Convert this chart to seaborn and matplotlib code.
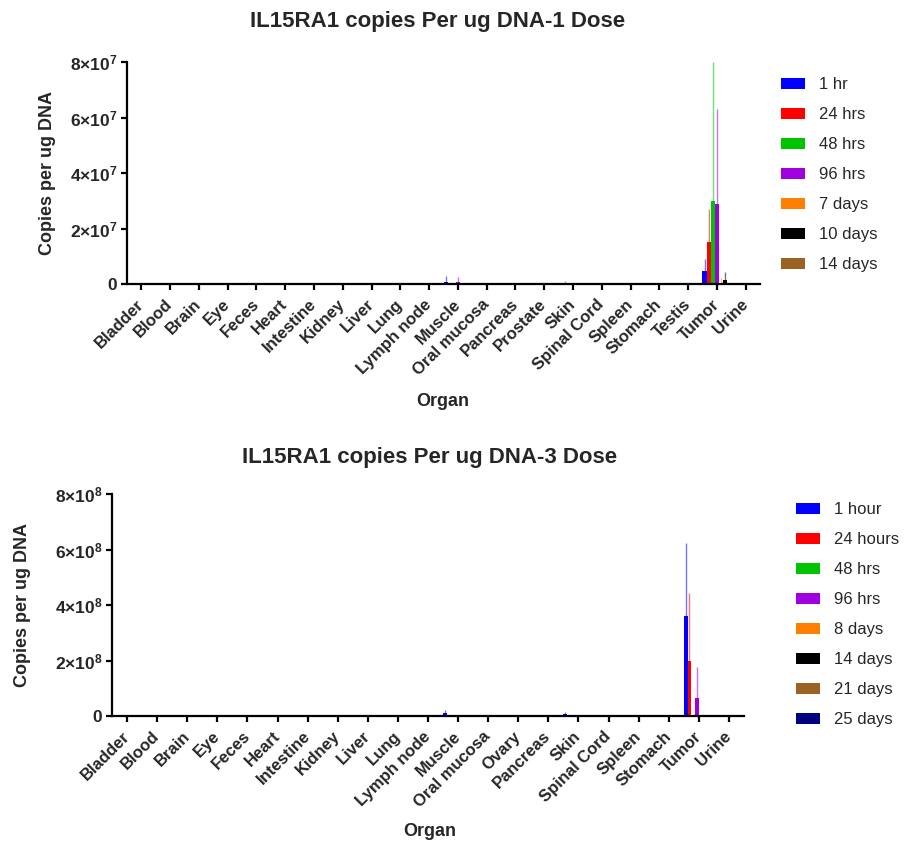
import numpy as np
import pandas as pd
import matplotlib
matplotlib.use("Agg")
import matplotlib.pyplot as plt
import seaborn as sns

# ---------------- data: 1 dose (values in units of 1e7) ----------------
organs_1 = ["Bladder", "Blood", "Brain", "Eye", "Feces", "Heart", "Intestine",
            "Kidney", "Liver", "Lung", "Lymph node", "Muscle", "Oral mucosa",
            "Pancreas", "Prostate", "Skin", "Spinal Cord", "Spleen", "Stomach",
            "Testis", "Tumor", "Urine"]
times_1 = ["1 hr", "24 hrs", "48 hrs", "96 hrs", "7 days", "10 days", "14 days"]
colors_1 = ["#0000FF", "#FF0000", "#00C400", "#A000E0", "#FF8000", "#000000", "#9A6324"]
scale_1 = 1e7
#                Bl Bo Br Ey Fe He In Ki Li Lu LN    Mu    OM Pa Pr Sk    SC Sp St Te Tu    Ur
mean_1hr_1  = [0, 0, 0, 0, 0, 0, 0, 0, 0, 0, 0,    0.07, 0, 0, 0, 0,    0, 0, 0, 0, 0.47, 0]
mean_24h_1  = [0, 0, 0, 0, 0, 0, 0, 0, 0, 0, 0,    0.03, 0, 0, 0, 0.03, 0, 0, 0, 0, 1.50, 0]
mean_48h_1  = [0, 0, 0, 0, 0, 0, 0, 0, 0, 0, 0,    0.03, 0, 0, 0, 0,    0, 0, 0, 0, 3.00, 0]
mean_96h_1  = [0, 0, 0, 0, 0, 0, 0, 0, 0, 0, 0,    0.06, 0, 0, 0, 0.02, 0, 0, 0, 0, 2.88, 0]
mean_7d_1   = [0, 0, 0, 0, 0, 0, 0, 0, 0, 0, 0,    0,    0, 0, 0, 0,    0, 0, 0, 0, 0.05, 0]
mean_10d_1  = [0, 0, 0, 0, 0, 0, 0, 0, 0, 0, 0,    0,    0, 0, 0, 0,    0, 0, 0, 0, 0.14, 0]
mean_14d_1  = [0, 0, 0, 0, 0, 0, 0, 0, 0, 0, 0,    0.03, 0, 0, 0, 0,    0, 0, 0, 0, 0,    0]
sd_1hr_1    = [0, 0, 0, 0, 0, 0, 0, 0, 0, 0, 0,    0.21, 0, 0, 0, 0,    0, 0, 0, 0, 0.43, 0]
sd_24h_1    = [0, 0, 0, 0, 0, 0, 0, 0, 0, 0, 0,    0.02, 0, 0, 0, 0.08, 0, 0, 0, 0, 1.20, 0]
sd_48h_1    = [0, 0, 0, 0, 0, 0, 0, 0, 0, 0, 0,    0.02, 0, 0, 0, 0,    0, 0, 0, 0, 5.00, 0]
sd_96h_1    = [0, 0, 0, 0, 0, 0, 0, 0, 0, 0, 0,    0.20, 0, 0, 0, 0.02, 0, 0, 0, 0, 3.42, 0]
sd_7d_1     = [0, 0, 0, 0, 0, 0, 0, 0, 0, 0, 0,    0,    0, 0, 0, 0,    0, 0, 0, 0, 0.15, 0]
sd_10d_1    = [0, 0, 0, 0, 0, 0, 0, 0, 0, 0, 0,    0,    0, 0, 0, 0,    0, 0, 0, 0, 0.30, 0]
sd_14d_1    = [0, 0, 0, 0, 0, 0, 0, 0, 0, 0, 0,    0.02, 0, 0, 0, 0,    0, 0, 0, 0, 0,    0]
yticks_1 = [0, 2, 4, 6, 8]

# ---------------- data: 3 dose (values in units of 1e8) ----------------
organs_3 = ["Bladder", "Blood", "Brain", "Eye", "Feces", "Heart", "Intestine",
            "Kidney", "Liver", "Lung", "Lymph node", "Muscle", "Oral mucosa",
            "Ovary", "Pancreas", "Skin", "Spinal Cord", "Spleen", "Stomach",
            "Tumor", "Urine"]
times_3 = ["1 hour", "24 hours", "48 hrs", "96 hrs", "8 days", "14 days", "21 days", "25 days"]
colors_3 = ["#0000FF", "#FF0000", "#00C400", "#A000E0", "#FF8000", "#000000", "#9A6324", "#000080"]
scale_3 = 1e8
#                Bl Bo Br Ey Fe He In Ki Li Lu LN     Mu    OM Ov Pa Sk    SC Sp St Tu    Ur
mean_1h_3   = [0, 0, 0, 0, 0, 0, 0, 0, 0, 0, 0.005, 0.10, 0, 0, 0, 0.06, 0, 0, 0, 3.60, 0]
mean_24h_3  = [0, 0, 0, 0, 0, 0, 0, 0, 0, 0, 0,     0,    0, 0, 0, 0,    0, 0, 0, 2.00, 0]
mean_48h_3  = [0, 0, 0, 0, 0, 0, 0, 0, 0, 0, 0,     0,    0, 0, 0, 0,    0, 0, 0, 0.03, 0]
mean_96h_3  = [0, 0, 0, 0, 0, 0, 0, 0, 0, 0, 0,     0,    0, 0, 0, 0,    0, 0, 0, 0.65, 0]
mean_8d_3   = [0, 0, 0, 0, 0, 0, 0, 0, 0, 0, 0,     0,    0, 0, 0, 0,    0, 0, 0, 0,    0]
mean_14d_3  = [0, 0, 0, 0, 0, 0, 0, 0, 0, 0, 0,     0,    0, 0, 0, 0,    0, 0, 0, 0,    0]
mean_21d_3  = [0, 0, 0, 0, 0, 0, 0, 0, 0, 0, 0,     0,    0, 0, 0, 0,    0, 0, 0, 0,    0]
mean_25d_3  = [0, 0, 0, 0, 0, 0, 0, 0, 0, 0, 0,     0,    0, 0, 0, 0,    0, 0, 0, 0,    0]
sd_1h_3     = [0, 0, 0, 0, 0, 0, 0, 0, 0, 0, 0.02,  0.12, 0, 0, 0, 0.07, 0, 0, 0, 2.65, 0]
sd_24h_3    = [0, 0, 0, 0, 0, 0, 0, 0, 0, 0, 0,     0,    0, 0, 0, 0,    0, 0, 0, 2.43, 0]
sd_48h_3    = [0, 0, 0, 0, 0, 0, 0, 0, 0, 0, 0,     0,    0, 0, 0, 0,    0, 0, 0, 0,    0]
sd_96h_3    = [0, 0, 0, 0, 0, 0, 0, 0, 0, 0, 0,     0,    0, 0, 0, 0,    0, 0, 0, 1.12, 0]
sd_8d_3     = [0, 0, 0, 0, 0, 0, 0, 0, 0, 0, 0,     0,    0, 0, 0, 0,    0, 0, 0, 0,    0]
sd_14d_3    = [0, 0, 0, 0, 0, 0, 0, 0, 0, 0, 0,     0,    0, 0, 0, 0,    0, 0, 0, 0,    0]
sd_21d_3    = [0, 0, 0, 0, 0, 0, 0, 0, 0, 0, 0,     0,    0, 0, 0, 0,    0, 0, 0, 0,    0]
sd_25d_3    = [0, 0, 0, 0, 0, 0, 0, 0, 0, 0, 0,     0,    0, 0, 0, 0,    0, 0, 0, 0,    0]
yticks_3 = [0, 2, 4, 6, 8]

means_1 = [mean_1hr_1, mean_24h_1, mean_48h_1, mean_96h_1, mean_7d_1, mean_10d_1, mean_14d_1]
sds_1 = [sd_1hr_1, sd_24h_1, sd_48h_1, sd_96h_1, sd_7d_1, sd_10d_1, sd_14d_1]
means_3 = [mean_1h_3, mean_24h_3, mean_48h_3, mean_96h_3, mean_8d_3, mean_14d_3, mean_21d_3, mean_25d_3]
sds_3 = [sd_1h_3, sd_24h_3, sd_48h_3, sd_96h_3, sd_8d_3, sd_14d_3, sd_21d_3, sd_25d_3]

# ---------------- style ----------------
sns.set_theme(style="ticks")
plt.rcParams["font.family"] = ["Liberation Sans", "DejaVu Sans"]
plt.rcParams["mathtext.fontset"] = "custom"
plt.rcParams["mathtext.rm"] = "Liberation Sans"
plt.rcParams["mathtext.bf"] = "Liberation Sans:bold"

fig = plt.figure(figsize=(9.08, 8.44), dpi=100)
W, H = 908, 844


def axes_px(x0, y0, x1, y1):
    return fig.add_axes([x0 / W, 1 - y1 / H, (x1 - x0) / W, (y1 - y0) / H])


def draw(ax, organs, times, colors, means, sds, scale, yticks, exp, title,
         title_xy, xlabel_xy, ylabel_x, legend_xy):
    rows = []
    for t, m in zip(times, means):
        for o, v in zip(organs, m):
            rows.append({"Organ": o, "Time": t, "Value": v * scale})
    df = pd.DataFrame(rows)
    sns.barplot(data=df, x="Organ", y="Value", hue="Time", order=organs,
                hue_order=times, palette=colors, errorbar=None, width=1.0,
                saturation=1, linewidth=0, ax=ax)
    # error bars (upper SD only)
    for cont, sd, col in zip(ax.containers, sds, colors):
        xs = [p.get_x() + p.get_width() / 2 for p in cont.patches]
        hs = [p.get_height() for p in cont.patches]
        up = [s * scale for s in sd]
        sel = [i for i, s in enumerate(up) if s > 0]
        if sel:
            ax.errorbar([xs[i] for i in sel], [hs[i] for i in sel],
                        yerr=[[0] * len(sel), [up[i] for i in sel]],
                        fmt="none", ecolor=col, elinewidth=1.0, alpha=0.55,
                        capsize=0)
    ax.set_xlim(-0.5, len(organs) - 0.5)
    ax.set_ylim(0, yticks[-1] * scale)
    ax.set_yticks([t * scale for t in yticks])
    labels = ["0"] + [r"$\mathbf{%d{\times}10^{%d}}$" % (t, exp) for t in yticks[1:]]
    ax.set_yticklabels(labels, fontsize=12.5, fontweight="bold")
    ax.set_xticks(range(len(organs)))
    ax.set_xticklabels(organs, rotation=45, ha="right", va="center",
                       rotation_mode="anchor", fontsize=12, fontweight="bold")
    for s in ["top", "right"]:
        ax.spines[s].set_visible(False)
    for s in ["left", "bottom"]:
        ax.spines[s].set_linewidth(1.6)
        ax.spines[s].set_color("black")
    ax.tick_params(axis="both", length=4, width=1.6, color="black", pad=3)
    ax.tick_params(axis="x", pad=9)
    ax.set_xlabel("")
    ax.set_ylabel("Copies per ug DNA", fontsize=13, fontweight="bold")
    ax.yaxis.set_label_coords(ylabel_x, 0.5)
    fig.text(title_xy[0] / W, 1 - title_xy[1] / H, title, ha="center",
             va="center", fontsize=16, fontweight="bold")
    fig.text(xlabel_xy[0] / W, 1 - xlabel_xy[1] / H, "Organ", ha="center",
             va="center", fontsize=13, fontweight="bold")
    ax.legend(loc="upper left",
              bbox_to_anchor=(legend_xy[0] / W, 1 - legend_xy[1] / H),
              bbox_transform=fig.transFigure, frameon=False,
              fontsize=12, handlelength=1.45, handleheight=0.65,
              handletextpad=0.85, labelspacing=0.9, borderpad=0,
              borderaxespad=0)
    return ax


ax1 = axes_px(127, 62, 760, 284)
draw(ax1, organs_1, times_1, colors_1, means_1, sds_1, scale_1, yticks_1, 7,
     "IL15RA1 copies Per ug DNA-1 Dose", (438, 22), (443, 401), -0.112,
     (781, 77))

ax3 = axes_px(112, 494, 744, 716)
draw(ax3, organs_3, times_3, colors_3, means_3, sds_3, scale_3, yticks_3, 8,
     "IL15RA1 copies Per ug DNA-3 Dose", (430, 458), (430, 831), -0.128,
     (796, 502))

fig.savefig("out.png", dpi=100)
